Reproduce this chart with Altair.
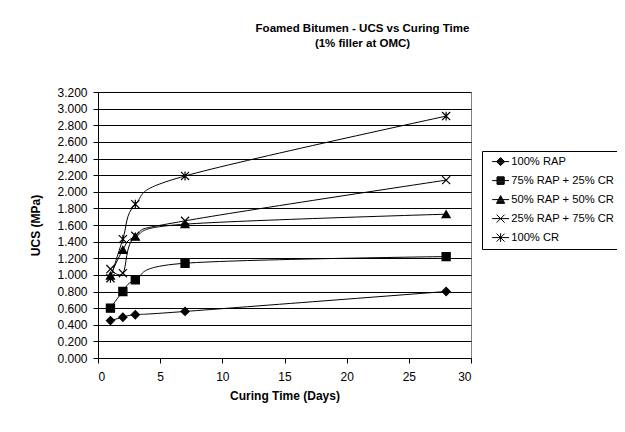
import altair as alt
import pandas as pd

days = [1, 2, 3, 7, 28]
series_names = ["100% RAP", "75% RAP + 25% CR", "50% RAP + 50% CR", "25% RAP + 75% CR", "100% CR"]
rap100 = [0.45, 0.49, 0.52, 0.56, 0.80]
rap75 = [0.60, 0.80, 0.94, 1.14, 1.22]
rap50 = [0.99, 1.30, 1.46, 1.61, 1.73]
rap25 = [1.07, 1.02, 1.47, 1.65, 2.14]
cr100 = [0.96, 1.43, 1.85, 2.19, 2.91]
y_ticks = [round(i * 0.2, 1) for i in range(17)]
x_ticks = [0, 5, 10, 15, 20, 25, 30]

values = [rap100, rap75, rap50, rap25, cr100]
rows = []
for name, vals in zip(series_names, values):
    for d, v in zip(days, vals):
        rows.append({"series": name, "day": d, "ucs": v})
df = pd.DataFrame(rows)

X_PATH = "M-1,-1L1,1M-1,1L1,-1"
STAR_PATH = "M-1,-1L1,1M-1,1L1,-1M0,-1.1L0,1.1"
point_shapes = ["diamond", "square", "triangle-up", X_PATH, STAR_PATH]


def hatch(halfwidth, y0, y1, step=0.2):
    parts = []
    y = y0
    while y <= y1 + 1e-9:
        w = halfwidth(y)
        if w > 0:
            parts.append(f"M{-w:.3f},{y:.3f}L{w:.3f},{y:.3f}")
        y += step
    return "".join(parts)


LINE = "M-2.1,0L2.1,0"
diamond_leg = "M0,-1L1,0L0,1L-1,0Z" + hatch(lambda y: 1 - abs(y), -0.9, 0.9)
square_leg = "M-0.9,-0.9L0.9,-0.9L0.9,0.9L-0.9,0.9Z" + hatch(lambda y: 0.9, -0.9, 0.9)
tri_leg = "M0,-1L1,0.9L-1,0.9Z" + hatch(lambda y: (y + 1) / 1.9, -0.9, 0.9)
legend_shapes = [LINE + diamond_leg, LINE + square_leg, LINE + tri_leg,
                 LINE + X_PATH, LINE + STAR_PATH]

font = "Liberation Sans"

xenc = alt.X("day:Q", scale=alt.Scale(domain=[0, 30], nice=False),
             axis=alt.Axis(values=x_ticks, title="Curing Time (Days)", grid=False,
                           labelFontSize=12, titleFontSize=12, labelPadding=8, titlePadding=8,
                           tickSize=5, domainColor="black", tickColor="black",
                           labelColor="black", titleColor="black", labelFont=font, titleFont=font))
yenc = alt.Y("ucs:Q", scale=alt.Scale(domain=[0, 3.2], nice=False),
             axis=alt.Axis(values=y_ticks, format=".3f", title="UCS (MPa)", grid=True,
                           gridColor="black", gridWidth=1, labelFontSize=12, titleFontSize=12,
                           labelPadding=6, titlePadding=14, tickSize=5, domainColor="black",
                           tickColor="black", labelColor="black", titleColor="black",
                           labelOverlap=False, labelFont=font, titleFont=font))

base = alt.Chart(df)

lines = base.mark_line(interpolate="cardinal", tension=0, color="black", strokeWidth=1).encode(
    x=xenc, y=yenc, detail="series:N", order="day:Q")

points = base.mark_point(filled=True, fill="black", stroke="black", strokeWidth=1.2,
                         size=66, opacity=1).encode(
    x=xenc, y=yenc,
    shape=alt.Shape("series:N", sort=series_names,
                    scale=alt.Scale(domain=series_names, range=point_shapes), legend=None))

legend_layer = base.transform_filter("datum.day < 0").transform_calculate(
    mix="datum.series").mark_point(
    filled=False, color="black", stroke="black", strokeWidth=1, opacity=1, size=64).encode(
    x=xenc, y=yenc,
    shape=alt.Shape("mix:N", sort=series_names,
                    scale=alt.Scale(domain=series_names, range=legend_shapes),
                    legend=alt.Legend(title=None, orient="none", legendX=384, legendY=59,
                                      strokeColor="black", fillColor="white", padding=5,
                                      labelFontSize=11.2, labelFont=font, labelColor="black",
                                      symbolSize=64, symbolOpacity=1,
                                      symbolStrokeColor="black", symbolStrokeWidth=1,
                                      symbolOffset=8, labelOffset=5, rowPadding=6, cornerRadius=0)))

chart = alt.layer(lines, points, legend_layer).resolve_scale(
    shape="independent").properties(
    width=373, height=266,
    autosize=alt.AutoSizeParams(type="none"),
    padding={"left": 90, "top": 84, "right": 146, "bottom": 64},
    title=alt.TitleParams(text=["Foamed Bitumen - UCS vs Curing Time", "(1% filler at OMC)"],
                          font=font, fontSize=11.5, fontWeight="bold", color="black",
                          anchor="middle", dx=78, offset=37, lineHeight=15),
).configure_view(stroke="#808080", strokeWidth=1)

chart.save("out.html", embed_options={"renderer": "svg", "actions": False})
